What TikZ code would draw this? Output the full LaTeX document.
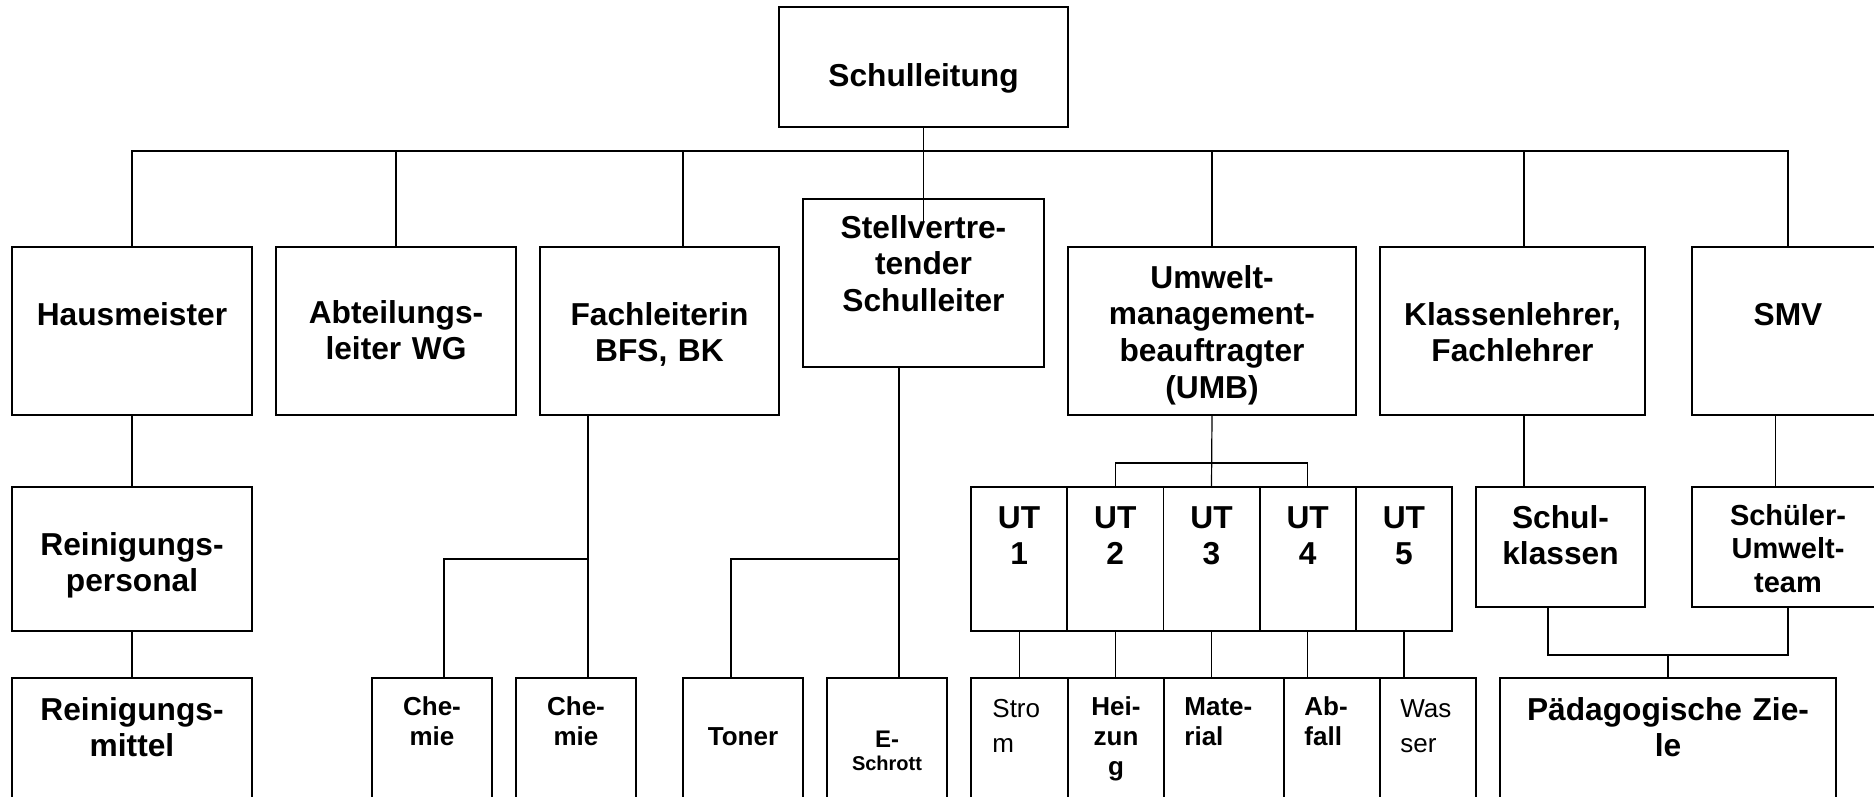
\documentclass[tikz,border=0pt]{standalone}
\usepackage{fontspec}
\setmainfont{Liberation Sans}
\begin{document}
\begin{tikzpicture}[x=0.5pt,y=-0.5pt,
  box/.style={draw, line width=0.9pt, inner sep=0pt, outer sep=0pt, rectangle},
  conn/.style={line width=0.6pt},
  big/.style={font=\bfseries\fontsize{15.85pt}{18.35pt}\selectfont, align=center, text width=170pt, inner sep=0pt, anchor=base},
  mid/.style={font=\bfseries\fontsize{14.5pt}{16.75pt}\selectfont, align=center, text width=120pt, inner sep=0pt, anchor=base},
  small/.style={font=\bfseries\fontsize{13pt}{15pt}\selectfont, align=center, text width=70pt, inner sep=0pt, anchor=base},
  smallL/.style={font=\bfseries\fontsize{13pt}{15pt}\selectfont, align=left, text width=50pt, inner sep=0pt, anchor=base west},
  regL/.style={font=\fontsize{13pt}{17.5pt}\selectfont, align=left, text width=50pt, inner sep=0pt, anchor=base west}
]
\useasboundingbox (0,0) rectangle (1874,797);
\clip (0,0) rectangle (1874,797);

% ---------- boxes ----------
\node[box, minimum width=144.5pt, minimum height=60pt] (sl) at (923.5,67) {};
\node[box, minimum width=120.5pt, minimum height=84pt] (sv) at (923.5,283) {};
\node[box, minimum width=120pt, minimum height=84pt] (hm) at (132,331) {};
\node[box, minimum width=120pt, minimum height=84pt] (ab) at (396,331) {};
\node[box, minimum width=119.5pt, minimum height=84pt] (fl) at (659.5,331) {};
\node[box, minimum width=144pt, minimum height=84pt] (um) at (1212,331) {};
\node[box, minimum width=132.5pt, minimum height=84pt] (kl) at (1512.5,331) {};
\node[box, minimum width=96pt, minimum height=84pt] (smv) at (1788,331) {};

\node[box, minimum width=120pt, minimum height=72pt] (rp) at (132,559) {};
\node[box, minimum width=48.1pt, minimum height=72pt] (ut1) at (1019.1,559) {};
\node[box, minimum width=48.1pt, minimum height=72pt] (ut2) at (1115.3,559) {};
\node[box, minimum width=48.1pt, minimum height=72pt] (ut3) at (1211.5,559) {};
\node[box, minimum width=48.1pt, minimum height=72pt] (ut4) at (1307.7,559) {};
\node[box, minimum width=48.1pt, minimum height=72pt] (ut5) at (1403.9,559) {};
\node[box, minimum width=84.5pt, minimum height=60pt] (sk) at (1560.5,547) {};
\node[box, minimum width=96pt, minimum height=60pt] (su) at (1788,547) {};

\node[box, minimum width=120pt, minimum height=111pt] (rm) at (132,789) {};
\node[box, minimum width=60pt, minimum height=111pt] (ch1) at (432,789) {};
\node[box, minimum width=60pt, minimum height=111pt] (ch2) at (576,789) {};
\node[box, minimum width=60pt, minimum height=111pt] (to) at (743,789) {};
\node[box, minimum width=60pt, minimum height=111pt] (es) at (887,789) {};
\node[box, minimum width=48.5pt, minimum height=111pt] (st) at (1019.5,789) {};
\node[box, minimum width=48pt, minimum height=111pt] (hz) at (1116,789) {};
\node[box, minimum width=60pt, minimum height=111pt] (ma) at (1224,789) {};
\node[box, minimum width=48pt, minimum height=111pt] (af) at (1332,789) {};
\node[box, minimum width=48pt, minimum height=111pt] (wa) at (1428,789) {};
\node[box, minimum width=168pt, minimum height=111pt] (pz) at (1668,789) {};

% ---------- texts ----------
\node[big] (sl-t) at (923.5,87) {Schulleitung};
\node[big] (sv-t) at (923.5,238) {Stellvertre-\\tender\\Schulleiter};
\node[big] (hm-t) at (132,325) {Hausmeister};
\node[big] (ab-t) at (396,323) {Abteilungs-\\leiter WG};
\node[big] (fl-t) at (659.5,325) {Fachleiterin\\BFS, BK};
\node[big] (um-t) at (1212,288) {Umwelt-\\management-\\beauftragter\\(UMB)};
\node[big] (kl-t) at (1512.5,325) {Klassenlehrer,\\Fachlehrer};
\node[big] (smv-t) at (1788,325) {SMV};

\node[big] (rp-t) at (132,555) {Reinigungs-\\personal};
\node[big] (ut1-t) at (1019.1,528) {UT\\1};
\node[big] (ut2-t) at (1115.3,528) {UT\\2};
\node[big] (ut3-t) at (1211.5,528) {UT\\3};
\node[big] (ut4-t) at (1307.7,528) {UT\\4};
\node[big] (ut5-t) at (1403.9,528) {UT\\5};
\node[big] (sk-t) at (1560.5,528) {Schul-\\klassen};
\node[mid] (su-t) at (1788,525) {Schüler-\\Umwelt-\\team};

\node[big] (rm-t) at (132,720) {Reinigungs-\\mittel};
\node[small] (ch1-t) at (432,715) {Che-\\mie};
\node[small] (ch2-t) at (576,715) {Che-\\mie};
\node[small] (to-t) at (743,745) {Toner};
\node[small, font=\bfseries\fontsize{12pt}{14pt}\selectfont] (es-t1) at (887,747) {E-};
\node[small, font=\bfseries\fontsize{10pt}{12pt}\selectfont] (es-t2) at (887,770) {Schrott};
\node[regL] (st-t) at (992,717) {Stro\\m};
\node[small] (hz-t) at (1116,715) {Hei-\\zun\\g};
\node[smallL] (ma-t) at (1184,715) {Mate-\\rial};
\node[smallL] (af-t) at (1304,715) {Ab-\\fall};
\node[regL] (wa-t) at (1400,717) {Was\\ser};
\node[big] (pz-t) at (1668,720) {Pädagogische Zie-\\le};

% ---------- connectors ----------
\coordinate (bus) at (0,151);
\draw[conn] (sl.south) -- ([yshift=-11.5pt]sv.north);
\draw[conn] (hm.north) -- (hm.north |- bus) -- (smv.north |- bus) -- (smv.north);
\draw[conn] (ab.north) -- (ab.north |- bus);
\draw[conn] ([xshift=11.75pt]fl.north) -- ([xshift=11.75pt]fl.north |- bus);
\draw[conn] (um.north) -- (um.north |- bus);
\draw[conn] ([xshift=5.75pt]kl.north) -- ([xshift=5.75pt]kl.north |- bus);

\draw[conn] (hm.south) -- (rp.north);
\draw[conn] (rp.south) -- (rm.north);

\coordinate (flj) at (588,559);
\draw[conn] (fl.south -| flj) -- (flj) -- (ch2.north -| flj);
\draw[conn] (flj) -| ([xshift=6pt]ch1.north);

\coordinate (svj) at (899,559);
\draw[conn] (sv.south -| svj) -- (svj) -- (es.north -| svj);
\draw[conn] (svj) -| ([xshift=-6pt]to.north);

\coordinate (umj) at (1212,463);
\draw[conn] (um.south) -- (ut3.north);
\draw[conn] (ut2.north) |- (umj) -| (ut4.north);

\draw[conn] (ut1.south) -- (ut1.south |- st.north);
\draw[conn] (ut2.south) -- (ut2.south |- hz.north);
\draw[conn] (ut3.south) -- (ut3.south |- ma.north);
\draw[conn] (ut4.south) -- (ut4.south |- af.north);
\draw[conn] (ut5.south) -- (ut5.south |- wa.north);

\draw[conn] ([xshift=5.75pt]kl.south) -- ([xshift=5.75pt]kl.south |- sk.north);
\draw[conn] ([xshift=-6.25pt]smv.south) -- ([xshift=-6.25pt]smv.south |- su.north);

\coordinate (pj) at (1668,655);
\draw[conn] ([xshift=-6.25pt]sk.south) |- (pj) -| (su.south);
\draw[conn] (pj) -- (pz.north);
\end{tikzpicture}
\end{document}
